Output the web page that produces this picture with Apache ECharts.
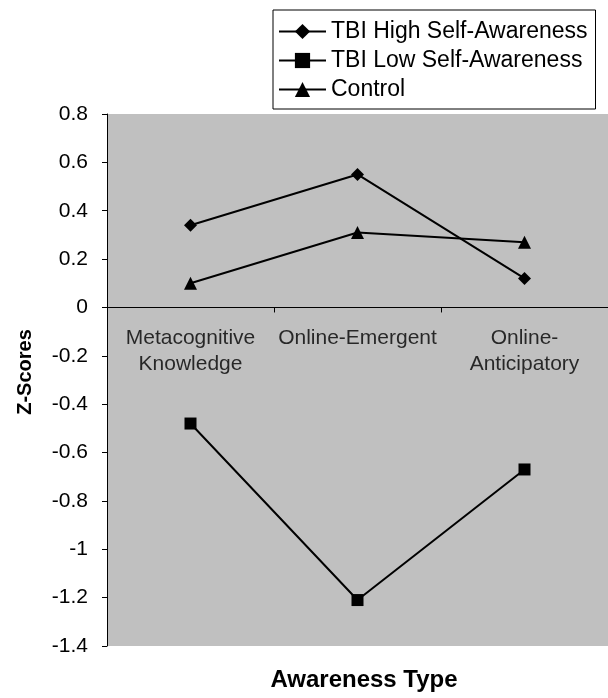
<!DOCTYPE html>
<html>
<head>
<meta charset="utf-8">
<script src="https://cdn.jsdelivr.net/npm/echarts@6/dist/echarts.min.js"></script>
<style>html,body{margin:0;padding:0;background:#fff;}#c{width:608px;height:698px;}</style>
</head>
<body>
<div id="c"></div>
<script>
const categories = ['Metacognitive\nKnowledge', 'Online-Emergent', 'Online-\nAnticipatory'];
const highAwareness = [0.34, 0.55, 0.12];
const lowAwareness = [-0.48, -1.21, -0.67];
const control = [0.10, 0.31, 0.27];
const seriesNames = ['TBI High Self-Awareness', 'TBI Low Self-Awareness', 'Control'];
const yMin = -1.4, yMax = 0.8, yStep = 0.2;

const FONT = "'Liberation Sans', Arial, sans-serif";
const chart = echarts.init(document.getElementById('c'));

function lineSeries(name, data, symbol, size) {
  return {
    name: name, type: 'line', data: data, symbol: symbol, symbolSize: size,
    lineStyle: {color: '#000', width: 2},
    itemStyle: {color: '#000'},
    animation: false, z: 3
  };
}

chart.setOption({
  animation: false,
  textStyle: {fontFamily: FONT},
  grid: {left: 107, right: -3, top: 114, bottom: 52, show: true, backgroundColor: '#c0c0c0', borderWidth: 0},
  legend: {
    left: 273, top: 10, orient: 'vertical',
    borderColor: '#000', borderWidth: 1, backgroundColor: '#fff',
    padding: [10, 8, 8, 5], itemGap: 6, itemWidth: 47, itemHeight: 19,
    textStyle: {fontSize: 23, color: '#000', fontFamily: FONT, lineHeight: 22},
    data: seriesNames
  },
  xAxis: {
    type: 'category', data: categories, boundaryGap: true,
    axisLine: {onZero: true, lineStyle: {color: '#000', width: 1}},
    axisTick: {show: true, length: 5, lineStyle: {color: '#000'}},
    axisLabel: {show: false}
  },
  yAxis: {
    type: 'value', min: yMin, max: yMax, interval: yStep,
    name: 'Z-Scores', nameLocation: 'middle', nameGap: 72,
    nameTextStyle: {fontSize: 20, fontWeight: 'bold', color: '#000', fontFamily: FONT, padding: [0, 0, 0, 16]},
    axisLine: {show: true, lineStyle: {color: '#000', width: 1}},
    axisTick: {show: true, length: 5, lineStyle: {color: '#000'}},
    splitLine: {show: false},
    axisLabel: {color: '#000', fontSize: 21, margin: 19, fontFamily: FONT,
      formatter: v => String(Math.round(v * 10) / 10)}
  },
  graphic: [{
    type: 'text', x: 364, y: 680,
    style: {text: 'Awareness Type', font: "bold 24px 'Liberation Sans', Arial, sans-serif", fill: '#000',
      textAlign: 'center', textVerticalAlign: 'middle'}
  }],
  series: [
    {
      type: 'scatter', symbolSize: 0, silent: true, z: 1,
      data: categories.map(c => [c, 0]),
      label: {show: true, position: 'bottom', distance: 18, color: '#000', fontSize: 21, lineHeight: 26,
        fontFamily: FONT, align: 'center', formatter: p => p.value[0]}
    },
    lineSeries(seriesNames[0], highAwareness, 'diamond', 13),
    lineSeries(seriesNames[1], lowAwareness, 'rect', 12),
    lineSeries(seriesNames[2], control, 'triangle', 13)
  ]
});
</script>
</body>
</html>
